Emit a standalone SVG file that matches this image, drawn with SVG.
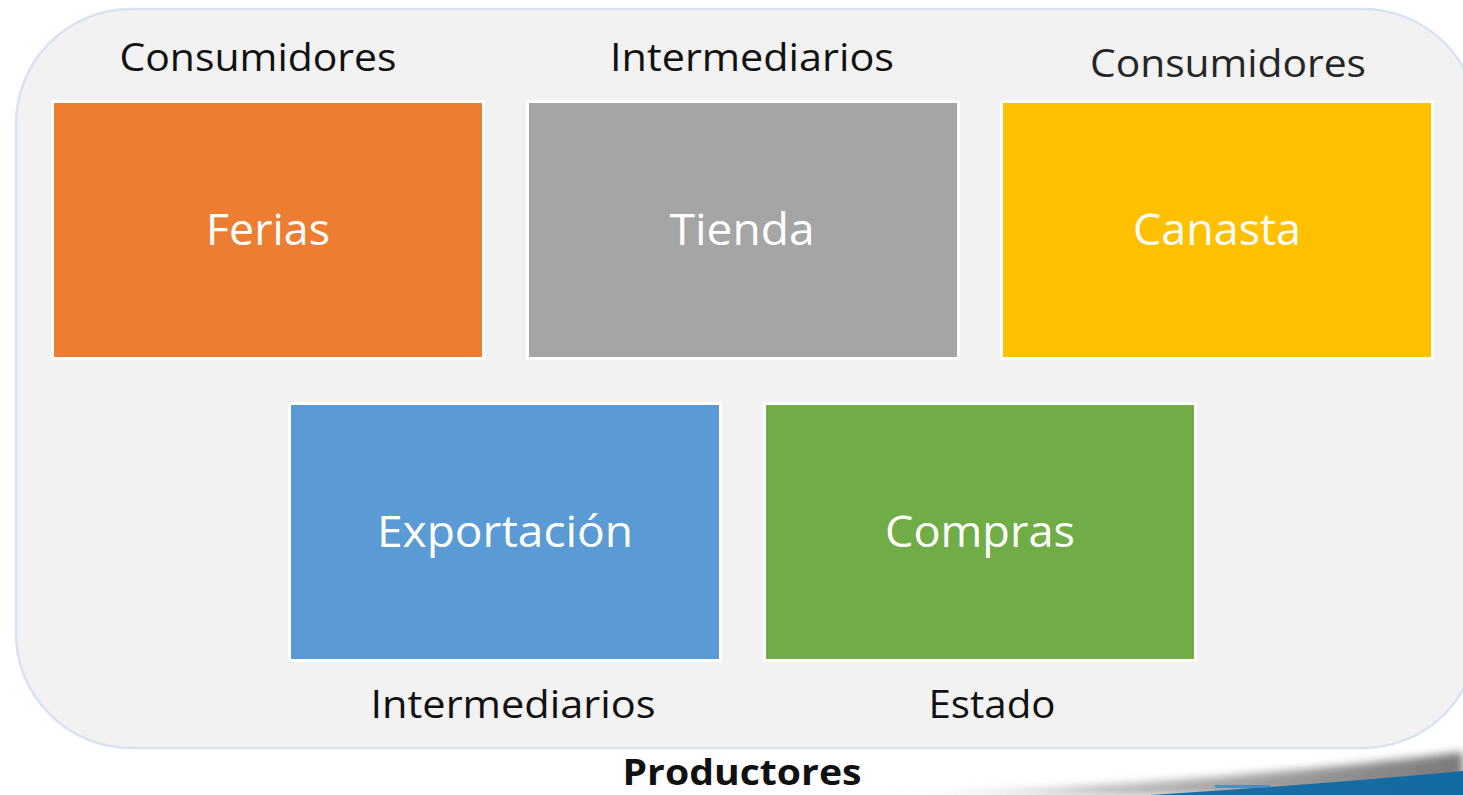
<svg xmlns="http://www.w3.org/2000/svg" width="1463" height="795" viewBox="0 0 1463 795">
<defs>
<style>
.box{stroke:#ffffff;stroke-width:3}
.bl{font-family:"Open Sans","Liberation Sans",sans-serif;font-size:44px;fill:#ffffff;text-anchor:middle}
.lb{font-family:"Open Sans","Liberation Sans",sans-serif;font-size:38px;fill:#111111;text-anchor:middle}
.pb{font-family:"Open Sans","Liberation Sans",sans-serif;font-size:36px;font-weight:bold;fill:#111111;text-anchor:middle}
</style>
<filter id="blur" x="-10%" y="-100%" width="120%" height="300%"><feGaussianBlur stdDeviation="4"/></filter>
<linearGradient id="sh" x1="0" y1="0" x2="1" y2="0">
<stop offset="0" stop-color="#9a9a9a" stop-opacity="0"/>
<stop offset="0.4" stop-color="#8a8a8a" stop-opacity="0.6"/>
<stop offset="1" stop-color="#6a6a6a" stop-opacity="0.9"/>
</linearGradient>
<linearGradient id="bg" x1="0" y1="0" x2="1" y2="0">
<stop offset="0" stop-color="#1a6ea8"/>
<stop offset="1" stop-color="#136aa0"/>
</linearGradient>
</defs>
<rect width="1463" height="795" fill="#ffffff"/>
<g id="container">
<rect x="16" y="9" width="1462" height="739" rx="115" ry="115" fill="#f2f2f2" stroke="#d8e2f2" stroke-width="2.5"/>
</g>
<g id="swoosh">
<path d="M 860 795 Q 1150 790 1463 752 L 1463 795 Z" fill="url(#sh)" filter="url(#blur)"/>
<path d="M 1150 795 Q 1300 786 1463 771 L 1463 795 Z" fill="url(#bg)"/>
<rect x="1215" y="785" width="55" height="3" fill="#2a86c4" opacity="0.7"/>
</g>
<g id="connectors"></g>
<g id="label-consumidores-1"><text class="lb" x="258" y="71" textLength="277" lengthAdjust="spacingAndGlyphs">Consumidores</text></g>
<g id="label-intermediarios-1"><text class="lb" x="752" y="71" textLength="284" lengthAdjust="spacingAndGlyphs">Intermediarios</text></g>
<g id="label-consumidores-2"><text class="lb" x="1228" y="77" style="fill:#262626" textLength="276" lengthAdjust="spacingAndGlyphs">Consumidores</text></g>
<g id="node-ferias">
<rect class="box" x="52.5" y="101.5" width="431" height="257" fill="#ed7d31"/>
<text class="bl" x="268" y="245" textLength="124" lengthAdjust="spacingAndGlyphs">Ferias</text>
</g>
<g id="node-tienda">
<rect class="box" x="527.5" y="101.5" width="431" height="257" fill="#a5a5a5"/>
<text class="bl" x="742" y="245" textLength="145" lengthAdjust="spacingAndGlyphs">Tienda</text>
</g>
<g id="node-canasta">
<rect class="box" x="1001.5" y="101.5" width="431" height="257" fill="#ffc000"/>
<text class="bl" x="1217" y="245" textLength="168" lengthAdjust="spacingAndGlyphs">Canasta</text>
</g>
<g id="node-exportacion">
<rect class="box" x="289.5" y="403.5" width="431" height="257" fill="#5b9bd5"/>
<text class="bl" x="505" y="547" textLength="256" lengthAdjust="spacingAndGlyphs">Exportación</text>
</g>
<g id="node-compras">
<rect class="box" x="764.5" y="403.5" width="431" height="257" fill="#70ad47"/>
<text class="bl" x="980" y="547" textLength="190" lengthAdjust="spacingAndGlyphs">Compras</text>
</g>
<g id="label-intermediarios-2"><text class="lb" x="513" y="718" textLength="285" lengthAdjust="spacingAndGlyphs">Intermediarios</text></g>
<g id="label-estado"><text class="lb" x="992" y="718" textLength="127" lengthAdjust="spacingAndGlyphs">Estado</text></g>
<g id="label-productores"><text class="pb" x="742" y="785" textLength="239" lengthAdjust="spacingAndGlyphs">Productores</text></g>
</svg>
